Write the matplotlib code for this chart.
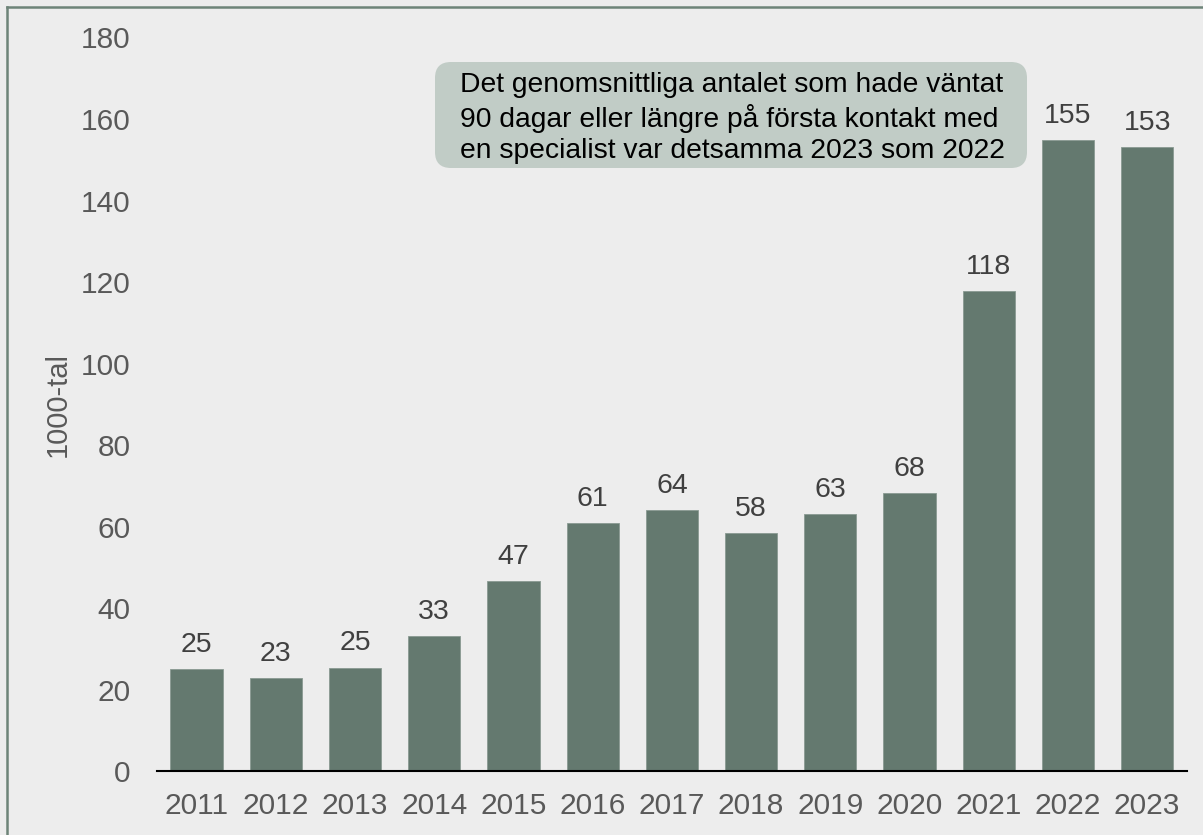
import matplotlib
matplotlib.use('Agg')
import matplotlib.pyplot as plt
from matplotlib.lines import Line2D
from matplotlib.patches import FancyBboxPatch

plt.rcParams['font.family'] = ['Liberation Sans', 'DejaVu Sans']

years = ['2011', '2012', '2013', '2014', '2015', '2016', '2017',
         '2018', '2019', '2020', '2021', '2022', '2023']
values = [25.0, 22.8, 25.4, 33.2, 46.7, 60.8, 64.0, 58.5, 63.1, 68.3, 117.8, 154.8, 153.1]
yticks = [0, 20, 40, 60, 80, 100, 120, 140, 160, 180]
note = ('Det genomsnittliga antalet som hade väntat\n'
        '90 dagar eller längre på första kontakt med\n'
        'en specialist var detsamma 2023 som 2022')

bg = '#EDEDED'
fig = plt.figure(figsize=(12.03, 8.35), dpi=100, facecolor=bg)
ax = fig.add_axes([0.1305, 0.0766, 0.856, 0.8785], facecolor=bg)

x = range(len(years))
ax.bar(x, values, width=0.66, color='#64796F', edgecolor='#8A9A92', linewidth=0.6)

for xi, v in zip(x, values):
    ax.annotate('%d' % round(v), (xi, v), xytext=(0, 8), textcoords='offset points',
                ha='center', va='bottom', fontsize=20.5, color='#404040')

ax.set_xlim(-0.5, len(years) - 0.5)
ax.set_ylim(0, 180)
ax.set_xticks(list(x))
ax.set_xticklabels(years)
ax.set_yticks(yticks)
ax.tick_params(axis='both', length=0, labelsize=21.5, labelcolor='#595959')
ax.tick_params(axis='x', pad=15)
ax.tick_params(axis='y', pad=19)
for s in ['top', 'right', 'left']:
    ax.spines[s].set_visible(False)
ax.spines['bottom'].set_color('black')
ax.spines['bottom'].set_linewidth(1.5)

ax.set_ylabel('1000-tal', fontsize=21, color='#595959')
ax.yaxis.set_label_coords(-0.083, 0.5)

# textruta med rundade hörn (i tum så att hörnen blir runda)
box = FancyBboxPatch((4.35, 6.67), 5.92, 1.06, boxstyle='round,pad=0,rounding_size=0.16',
                     transform=fig.dpi_scale_trans, fc='#C1CCC6', ec='none')
fig.add_artist(box)
fig.text(4.60, 7.17, note, transform=fig.dpi_scale_trans, fontsize=20.3, color='black',
         ha='left', va='center', linespacing=1.24)

# ram runt figuren (syns bara vänster och överkant)
fig.add_artist(Line2D([7 / 1203, 7 / 1203], [0, 1 - 7 / 835], transform=fig.transFigure,
                      color='#6E8479', linewidth=1.8))
fig.add_artist(Line2D([7 / 1203, 1], [1 - 7 / 835, 1 - 7 / 835], transform=fig.transFigure,
                      color='#6E8479', linewidth=1.8))

fig.savefig('out.png', dpi=100, facecolor=bg)
